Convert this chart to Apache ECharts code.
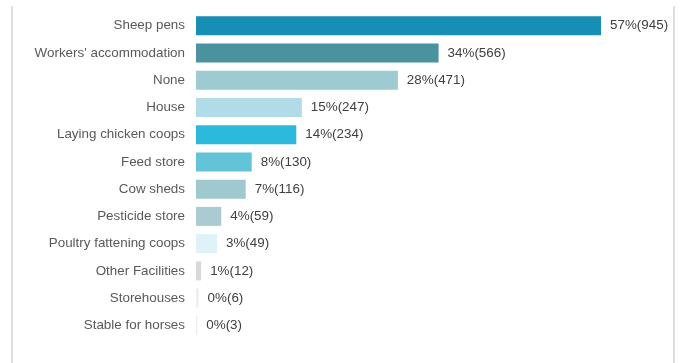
<!DOCTYPE html>
<html><head><meta charset="utf-8">
<script src="https://cdn.jsdelivr.net/npm/echarts@6/dist/echarts.min.js"></script>
<style>
html,body{margin:0;padding:0;background:#fff;}
#frame{position:absolute;left:11px;top:6px;width:660px;height:370px;border-left:2px solid #dedede;border-right:2px solid #dedede;}
#chart{position:absolute;left:0;top:0;width:681px;height:363px;}
</style></head>
<body><div id="frame"></div><div id="chart"></div>
<script>
const categories = ["Sheep pens","Workers' accommodation","None","House","Laying chicken coops","Feed store","Cow sheds","Pesticide store","Poultry fattening coops","Other Facilities","Storehouses","Stable for horses"];
const counts = [945,566,471,247,234,130,116,59,49,12,6,3];
const percents = [57,34,28,15,14,8,7,4,3,1,0,0];
const colors = ["#178fb5","#4b929f","#9ecbd2","#b1dbe6","#2cbadc","#62c4d6","#9fc9cf","#aacbd1","#ddf3f8","#d9d9d9","#eeeeee","#eeeeee"];

function fontAvailable(name){
  const c=document.createElement('canvas').getContext('2d');
  c.font='40px monospace'; const a=c.measureText('Workers accommodation').width;
  c.font="40px '"+name+"', monospace"; const b=c.measureText('Workers accommodation').width;
  return Math.abs(a-b)>1;
}
const narrow = fontAvailable('Liberation Sans Narrow');
const fam = narrow ? "'Liberation Sans Narrow'" : "'Liberation Sans'";
const fs = narrow ? 16 : 13.4;

const chart = echarts.init(document.getElementById('chart'), null, {renderer:'canvas'});
chart.setOption({
  animation:false,
  grid:{left:196,right:56.4,top:12,bottom:24,containLabel:false},
  xAxis:{type:'value',min:0,max:1000,show:false},
  yAxis:{type:'category',inverse:true,data:categories,
    axisLine:{show:false},axisTick:{show:false},
    axisLabel:{color:'#595959',fontFamily:fam,fontSize:fs,margin:11}},
  series:[{type:'bar',barWidth:19,
    data:counts.map((v,i)=>({value:v,itemStyle:{color:colors[i]}})),
    label:{show:true,position:'right',distance:9,color:'#404040',fontFamily:fam,fontSize:fs,
      formatter:p=>percents[p.dataIndex]+'%('+counts[p.dataIndex]+')'}}]
});
</script></body></html>
